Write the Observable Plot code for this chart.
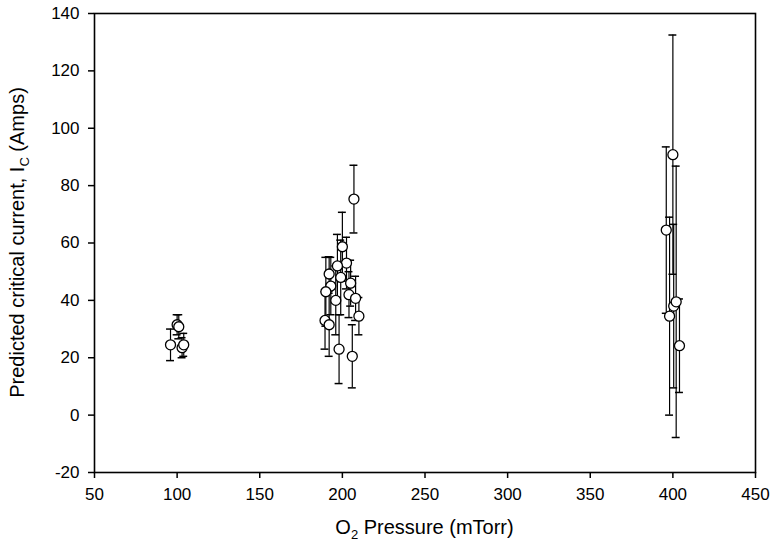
<!DOCTYPE html>
<html>
<head>
<meta charset="utf-8">
<script src="https://cdn.jsdelivr.net/npm/d3@7"></script>
<script src="https://cdn.jsdelivr.net/npm/@observablehq/plot@0.6"></script>
<style>
  html, body { margin: 0; padding: 0; background: #fff; }
  #chart svg { font-family: "Liberation Sans", Arial, sans-serif; }
</style>
</head>
<body>
<div id="chart"></div>
<script>
// O2 pressure (mTorr) of each sample
const pressure = [
  96, 100, 101, 103, 104,
  207, 200, 202.5, 192, 205, 193, 190, 204, 208, 196, 210, 189.5, 192, 198, 206, 197, 199,
  396, 398, 400, 400.5, 402, 404
];
// Predicted critical current Ic (Amps)
const current = [
  24.5, 31.5, 30.8, 23.5, 24.5,
  75.3, 58.7, 53, 49.2, 46, 45, 43, 42, 40.7, 40, 34.5, 33, 31.5, 23, 20.5, 52, 48,
  64.5, 34.5, 90.8, 38, 39.5, 24.2
];
// Error (± Amps)
const error = [
  5.5, 3.5, 4.2, 3.5, 4,
  11.8, 12, 9, 6, 8, 10, 12, 8, 7.7, 12, 6.5, 10, 11, 12, 11, 11, 13,
  29, 34.5, 41.7, 28.5, 47.3, 16.3
];
const xTicks = [50, 100, 150, 200, 250, 300, 350, 400, 450];
const yTicks = [-20, 0, 20, 40, 60, 80, 100, 120, 140];

const data = pressure.map((p, i) => ({x: p, y: current[i], e: error[i]}));
const capHalf = 2.4;

const chart = Plot.plot({
  width: 771,
  height: 542,
  marginLeft: 94,
  marginRight: 16,
  marginTop: 13,
  marginBottom: 70,
  style: {fontSize: "17px", fontFamily: "Liberation Sans, Arial, sans-serif", color: "#000", background: "#fff"},
  x: {domain: [50, 450], label: null},
  y: {domain: [-20, 140], label: null},
  marks: [
    Plot.frame({stroke: "#000", strokeWidth: 1.6}),
    Plot.axisX({ticks: xTicks, tickFormat: d => String(d), tickSize: 6, tickPadding: 9, label: null, strokeWidth: 1.5, fontSize: 17}),
    Plot.axisY({ticks: yTicks, tickFormat: d => String(d), tickSize: 6, tickPadding: 9, label: null, strokeWidth: 1.5, fontSize: 17}),
    Plot.ruleX(data, {x: "x", y1: d => d.y - d.e, y2: d => d.y + d.e, stroke: "#000", strokeWidth: 1.2}),
    Plot.ruleY(data, {y: d => d.y + d.e, x1: d => d.x - capHalf, x2: d => d.x + capHalf, stroke: "#000", strokeWidth: 1.5}),
    Plot.ruleY(data, {y: d => d.y - d.e, x1: d => d.x - capHalf, x2: d => d.x + capHalf, stroke: "#000", strokeWidth: 1.5}),
    Plot.dot(data, {x: "x", y: "y", r: 5, fill: "#fff", stroke: "#000", strokeWidth: 1.3})
  ]
});

const svg = d3.select(chart);
// x-axis title with subscript
const xt = svg.append("text")
  .attr("x", 94 + (771 - 94 - 16) / 2)
  .attr("y", 534)
  .attr("text-anchor", "middle")
  .attr("font-size", 20)
  .attr("fill", "#000");
xt.append("tspan").text("O");
xt.append("tspan").attr("font-size", 13).attr("dy", 5).text("2");
xt.append("tspan").attr("dy", -5).text(" Pressure (mTorr)");

// y-axis title with subscript
const yt = svg.append("text")
  .attr("transform", `translate(24, ${13 + (542 - 13 - 70) / 2}) rotate(-90)`)
  .attr("text-anchor", "middle")
  .attr("font-size", 20)
  .attr("fill", "#000");
yt.append("tspan").text("Predicted critical current, I");
yt.append("tspan").attr("font-size", 13).attr("dy", 5).text("C");
yt.append("tspan").attr("dy", -5).text(" (Amps)");

document.getElementById("chart").appendChild(chart);
</script>
</body>
</html>
